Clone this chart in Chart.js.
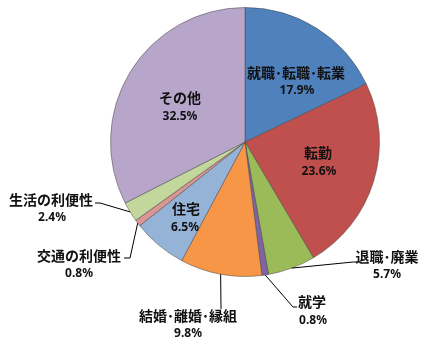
<!DOCTYPE html>
<html><head><meta charset="utf-8">
<script src="https://cdn.jsdelivr.net/npm/chart.js@4"></script>
<style>html,body{margin:0;padding:0;background:#fff;}canvas{display:block;}</style>
</head><body>
<canvas id="c" width="432" height="348"></canvas>
<script>
const categories = ['就職･転職･転業','転勤','退職･廃業','就学','結婚･離婚･縁組','住宅','交通の利便性','生活の利便性','その他'];
const shares = [17.9, 23.6, 5.7, 0.8, 9.8, 6.5, 0.8, 2.4, 32.5];
const percentLabels = ['17.9%','23.6%','5.7%','0.8%','9.8%','6.5%','0.8%','2.4%','32.5%'];
const colors = ['#4F81BD','#C0504D','#9BBB59','#8064A2','#F79646','#95B3D7','#D99694','#C3D69B','#B8A6CA'];

// label layout (text centre, percent centre, optional leader elbow and end)
const layout = [
  {t:[296,73], p:[297,91]},
  {t:[318,153], p:[319,172]},
  {t:[387,257], p:[387,275], elbow:[353,262], end:[357,262]},
  {t:[312,302], p:[313,321], elbow:[293,307], end:[297,307]},
  {t:[188,316], p:[188,334], elbow:[221,309], end:[221,309]},
  {t:[186,209], p:[185,228]},
  {t:[79,256], p:[79,274], elbow:[130,258], end:[124,258]},
  {t:[51,200], p:[52,218], elbow:[100,203], end:[95,203]},
  {t:[180,98], p:[180,117]}
];

const labelPlugin = {
  id:'labels',
  afterDatasetsDraw(chart){
    const ctx = chart.ctx;
    const arcs = chart.getDatasetMeta(0).data;
    ctx.save();
    arcs.forEach((arc,i)=>{
      const L = layout[i];
      if(L.elbow){
        const mid = (arc.startAngle+arc.endAngle)/2;
        const r = arc.outerRadius;
        ctx.beginPath();
        ctx.strokeStyle='#000';
        ctx.lineWidth=1;
        ctx.moveTo(arc.x + r*Math.cos(mid), arc.y + r*Math.sin(mid));
        ctx.lineTo(L.elbow[0], L.elbow[1]);
        ctx.lineTo(L.end[0], L.end[1]);
        ctx.stroke();
      }
      ctx.fillStyle='#111';
      ctx.textAlign='center';
      ctx.textBaseline='middle';
      ctx.font='bold 14px "Noto Sans CJK JP", sans-serif';
      ctx.fillText(categories[i], L.t[0], L.t[1]);
      ctx.font='bold 12px "Noto Sans", sans-serif';
      ctx.fillText(percentLabels[i], L.p[0], L.p[1]);
    });
    ctx.restore();
  }
};

new Chart(document.getElementById('c'), {
  type:'pie',
  data:{labels:categories, datasets:[{data:shares, backgroundColor:colors, borderColor:'rgba(70,70,70,0.5)', borderWidth:1}]},
  options:{
    responsive:false, animation:false, devicePixelRatio:1,
    layout:{padding:{left:110, right:52, top:7, bottom:71}},
    plugins:{legend:{display:false}, tooltip:{enabled:false}}
  },
  plugins:[labelPlugin]
});
</script>
</body></html>
